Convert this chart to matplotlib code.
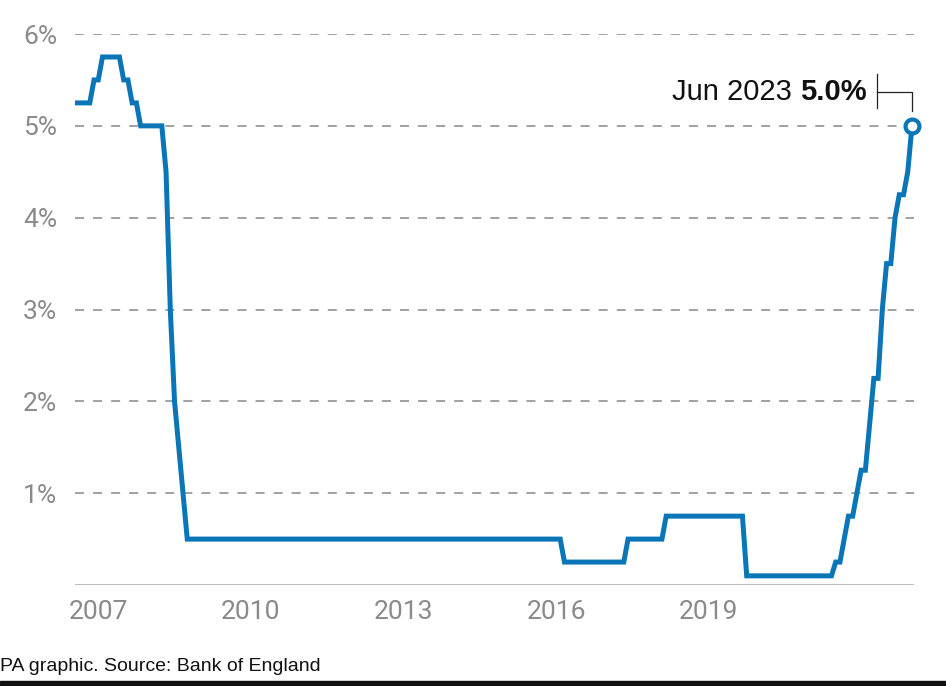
import matplotlib
matplotlib.use("Agg")
import matplotlib.pyplot as plt
import pandas as pd

# Bank Rate: month each new rate took effect, and the rate
change_month = ['2007-01', '2007-05', '2007-07', '2007-12', '2008-02', '2008-04',
                '2008-10', '2008-11', '2008-12', '2009-01', '2009-02', '2009-03',
                '2016-08', '2017-11', '2018-08', '2020-03', '2021-12', '2022-02',
                '2022-03', '2022-05', '2022-06', '2022-08', '2022-09', '2022-11',
                '2022-12', '2023-02', '2023-03', '2023-05', '2023-06']
bank_rate = [5.25, 5.5, 5.75, 5.5, 5.25, 5.0,
             4.5, 3.0, 2.0, 1.5, 1.0, 0.5,
             0.25, 0.5, 0.75, 0.1, 0.25, 0.5,
             0.75, 1.0, 1.25, 1.75, 2.25, 3.0,
             3.5, 4.0, 4.25, 4.5, 5.0]
last_month = '2023-06'

year_labels = ['2007', '2010', '2013', '2016', '2019']
y_ticks = [1, 2, 3, 4, 5, 6]

blue = '#0a76b8'
grey = '#8a8a8a'

# monthly series (rate held until the next change)
idx = pd.period_range(change_month[0], last_month, freq='M')
rates = pd.Series(bank_rate, index=pd.PeriodIndex(change_month, freq='M')).reindex(idx).ffill()
xs = [p.year + (p.month - 1) / 12 for p in idx]

fig = plt.figure(figsize=(9.46, 6.86), dpi=100)
ax = fig.add_axes([0.0793, 0.1472, 0.8869, 0.8032])

for v in y_ticks:
    ax.axhline(v, color='#9a9a9a', lw=1.3, ls=(0, (5, 5)), zorder=1)
ax.axhline(0, color='#b4b4b4', lw=2, zorder=1)

ax.plot(xs, rates.values, color=blue, lw=3.6, solid_joinstyle='miter', zorder=3)
ax.plot(xs[-1], rates.values[-1], 'o', ms=10, mfc='white', mec=blue, mew=3,
        zorder=4, clip_on=False)

ax.set_xlim(xs[0] - 0.04, xs[-1] + 0.04)
ax.set_ylim(0, 6)

ax.set_yticks(y_ticks)
ax.set_yticklabels([f'{v}%' for v in y_ticks])
ax.set_xticks([int(y) + 0.42 for y in year_labels])
ax.set_xticklabels(year_labels)
ax.tick_params(length=0, colors=grey, labelsize=19)
ax.tick_params(axis='y', pad=13)
ax.tick_params(axis='x', pad=11)
for lab in ax.get_xticklabels() + ax.get_yticklabels():
    lab.set_family('Roboto')
for s in ax.spines.values():
    s.set_visible(False)

# end label with bracket, placed in pixels around the last point
fig.canvas.draw()
px, py = ax.transData.transform((xs[-1], rates.values[-1]))
W, H = fig.bbox.width, fig.bbox.height
val = fig.text((px - 45) / W, (py + 34) / H, '5.0%', ha='right', va='center',
               fontsize=21, fontweight='bold', family='Liberation Sans', color='#111111')
bb = val.get_window_extent(fig.canvas.get_renderer())
fig.text((bb.x0 - 8) / W, (py + 34) / H, 'Jun 2023', ha='right', va='center',
         fontsize=21, family='Liberation Sans', color='#111111')
fig.add_artist(plt.Line2D([(px - 35) / W, (px - 35) / W], [(py + 18) / H, (py + 52) / H],
                          color='#222222', lw=0.9))
fig.add_artist(plt.Line2D([(px - 35) / W, px / W, px / W],
                          [(py + 34) / H, (py + 34) / H, (py + 15) / H],
                          color='#222222', lw=0.9))

fig.text(0.0, 0.029, 'PA graphic. Source: Bank of England', fontsize=14,
         family='Liberation Sans', color='#111111', va='center')
fig.patches.append(plt.Rectangle((0, 0), 1, 0.008, transform=fig.transFigure,
                                 color='#111111', zorder=5))

fig.savefig('out.png', dpi=100)
